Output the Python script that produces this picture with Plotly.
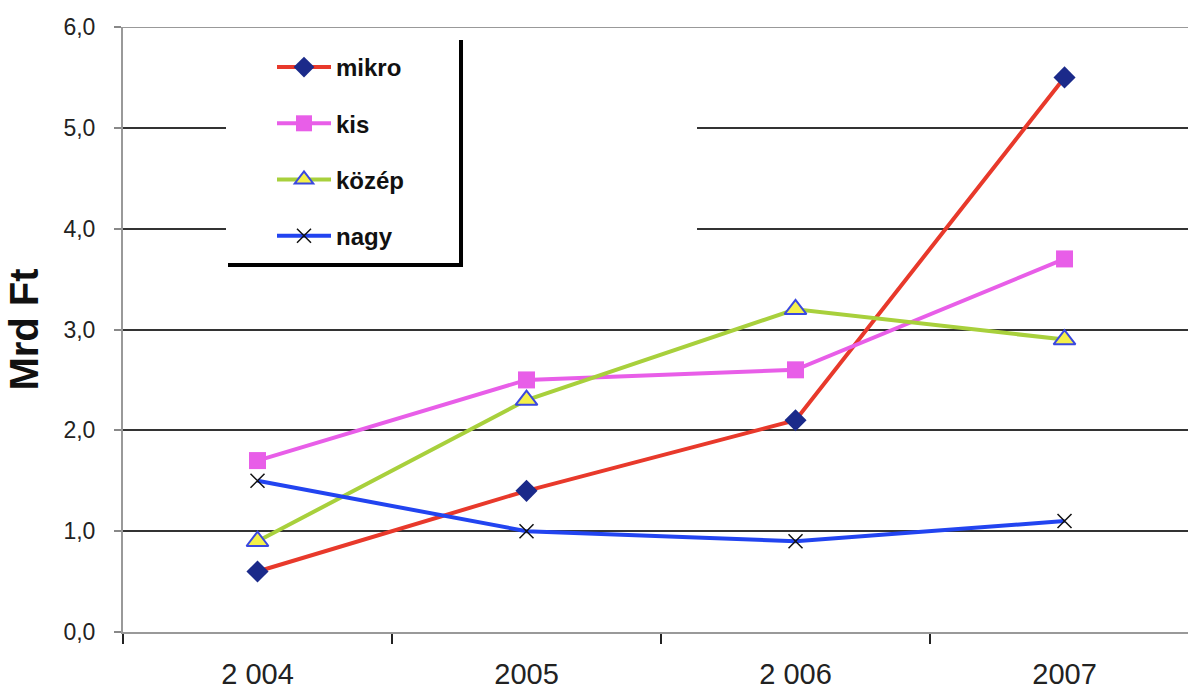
import plotly.graph_objects as go

years = ["2 004", "2005", "2 006", "2007"]
mikro = [0.6, 1.4, 2.1, 5.5]
kis = [1.7, 2.5, 2.6, 3.7]
kozep = [0.9, 2.3, 3.2, 2.9]
nagy = [1.5, 1.0, 0.9, 1.1]
y_ticks = [0, 1, 2, 3, 4, 5, 6]
y_labels = ["0,0", "1,0", "2,0", "3,0", "4,0", "5,0", "6,0"]

FONT = "Liberation Sans, Arial, sans-serif"

fig = go.Figure()
fig.add_trace(go.Scatter(
    x=years, y=mikro, name="mikro", mode="lines+markers", legendgroup="a",
    line=dict(color="#e8392b", width=4),
    marker=dict(symbol="diamond", size=17, color="#1b2a8a", line=dict(width=0))))
fig.add_trace(go.Scatter(
    x=years, y=kis, name="kis", mode="lines+markers", legendgroup="b",
    line=dict(color="#e85ee8", width=4),
    marker=dict(symbol="square", size=17, color="#e85ee8", line=dict(width=0))))
fig.add_trace(go.Scatter(
    x=years, y=kozep, name="közép", mode="lines+markers", legendgroup="c",
    line=dict(color="#a8d03c", width=4),
    marker=dict(symbol="triangle-up", size=19, color="#f4f04a",
                line=dict(color="#3a48e0", width=2))))
fig.add_trace(go.Scatter(
    x=years, y=nagy, name="nagy", mode="lines+markers", legendgroup="d",
    line=dict(color="#2244f0", width=4),
    marker=dict(symbol="x-thin", size=14, color="#111",
                line=dict(color="#111", width=1.5))))

CAT_PX = 269.0

def px_to_x(px):
    return (px - 123) / CAT_PX - 0.5

def px_to_paper_x(px):
    return (px - 123) / 1065.0

def px_to_y(py):
    return (632 - py) / (605 / 6.0)

# legend backdrop and shadow frame
fig.add_shape(type="rect", layer="between", xref="x", yref="y",
              x0=px_to_x(226), x1=px_to_x(697),
              y0=px_to_y(267), y1=px_to_y(40),
              fillcolor="white", line=dict(width=0))
fig.add_shape(type="line", xref="x", yref="y",
              x0=px_to_x(461), x1=px_to_x(461),
              y0=px_to_y(40), y1=px_to_y(267),
              line=dict(color="black", width=4))
fig.add_shape(type="line", xref="x", yref="y",
              x0=px_to_x(228), x1=px_to_x(463),
              y0=px_to_y(265), y1=px_to_y(265),
              line=dict(color="black", width=4))
fig.add_shape(type="line", layer="between", xref="paper", yref="y",
              x0=0, x1=1, y0=6, y1=6, line=dict(color="#999", width=2))

fig.update_layout(
    width=1188, height=692,
    margin=dict(l=123, r=0, t=27, b=60),
    plot_bgcolor="white", paper_bgcolor="white",
    font=dict(family=FONT, color="#222"),
    legend=dict(x=px_to_paper_x(272), y=(632 - 45) / 605.0,
                xanchor="left", yanchor="top",
                bgcolor="rgba(0,0,0,0)", borderwidth=0,
                font=dict(family=FONT, size=24, color="#111", weight="bold"),
                tracegroupgap=22, itemwidth=54),
    xaxis=dict(type="category", categoryorder="array", categoryarray=years,
               range=[-0.5, 3.459], showgrid=False, automargin=False,
               showline=True, linecolor="#999", linewidth=2,
               ticks="outside", tickson="boundaries", ticklen=10,
               tickcolor="#222", tickwidth=1.5,
               tickfont=dict(family=FONT, size=29, color="#222"),
               ticklabelstandoff=15),
    yaxis=dict(range=[0, 6], tickvals=y_ticks, ticktext=y_labels,
               showgrid=True, gridcolor="#333", gridwidth=2, automargin=False,
               zeroline=False, showline=True, linecolor="#999", linewidth=2,
               ticks="outside", ticklen=7, tickcolor="#888", tickwidth=1.5,
               tickfont=dict(family=FONT, size=23, color="#222"),
               ticklabelstandoff=14,
               title=dict(text="<b>Mrd Ft</b>",
                          font=dict(family=FONT, size=40, color="#111"),
                          standoff=12)),
)

fig.write_html("out.html", config={"displayModeBar": False},
               post_script="document.body.style.margin='0px';document.body.style.overflow='hidden';")
